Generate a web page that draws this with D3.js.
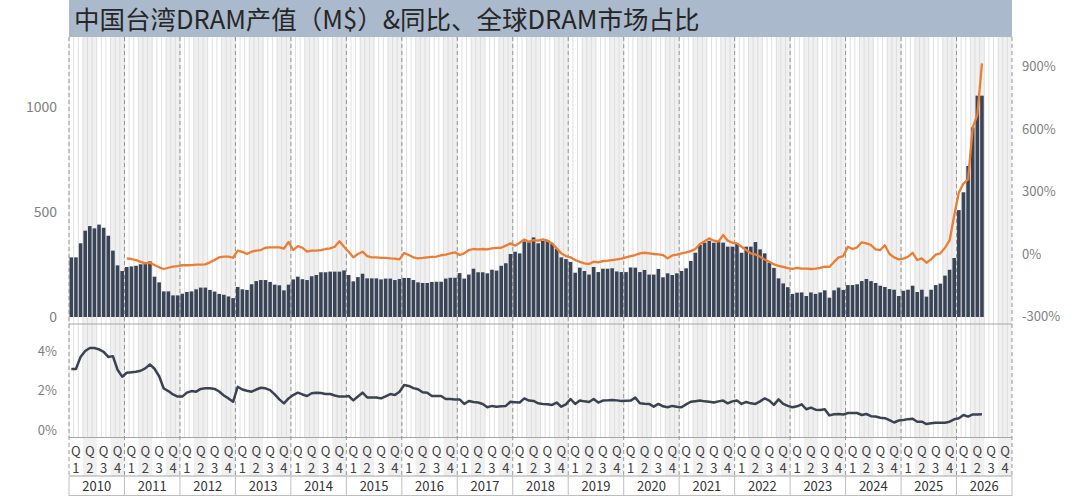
<!DOCTYPE html>
<html><head><meta charset="utf-8">
<script src="https://cdn.jsdelivr.net/npm/d3@7"></script>
<style>
body{margin:0;background:#fff}
svg{display:block}
text{font-family:"Noto Sans CJK SC","Noto Sans",sans-serif}
</style>
</head><body>
<svg id="chart" width="1080" height="496"></svg>
<script>
const title = "中国台湾DRAM产值（M$）&同比、全球DRAM市场占比";
const years = [2010,2011,2012,2013,2014,2015,2016,2017,2018,2019,2020,2021,2022,2023,2024,2025,2026];
const quarters = ["1","2","3","4"];
const monthsPerYear = ["01","02","03","04","05","06","07","08","09","10","11","12"];
const leftTicks = [0,500,1000];
const rightTicks = [-300,0,300,600,900];
const shareTicks = [0,2,4];

// 中国台湾DRAM产值 (M$), monthly from 2010-01
const output = [
  284,284,351,411,433,422,440,425,387,316,246,219,
  238,241,244,251,262,265,192,165,122,122,103,103,
  111,119,122,132,140,140,129,121,110,106,98,90,
  143,132,129,156,171,176,176,167,154,151,127,154,
  179,192,180,176,194,200,213,213,216,216,216,222,
  200,170,190,206,184,184,184,179,183,183,176,181,
  186,186,176,165,162,162,167,168,168,183,187,187,
  209,183,202,230,213,213,208,225,221,244,256,300,
  311,303,360,356,379,351,362,367,351,325,284,276,
  262,211,235,219,202,238,214,230,230,232,217,214,
  214,236,235,214,224,202,202,229,189,208,200,208,
  219,232,267,306,343,354,363,354,360,354,335,335,
  351,306,335,335,357,322,303,259,234,184,160,142,
  110,116,117,100,117,110,117,127,92,127,140,129,
  152,152,156,171,181,171,162,149,143,133,130,100,
  125,130,149,119,130,97,130,152,159,197,225,281,
  509,594,719,903,1054,1054
];
// 同比 (%), monthly from 2011-01
const yoyStartIndex = 12;
const yoy = [
  -21,-24,-29,-38,-45,-42,-53,-64,-72,-66,-61,-58,
  -54,-54,-53,-51,-51,-50,-40,-29,-16,-13,-13,-18,
  16,10,0,11,16,19,30,32,32,32,26,58,
  19,38,30,11,16,16,19,24,27,35,61,35,
  11,-16,0,11,-10,-16,-16,-19,-19,-21,-22,-26,
  5,-5,-16,-21,-19,-16,-14,-13,-6,-3,3,8,
  -5,3,19,24,22,24,22,27,29,30,40,51,
  40,54,70,59,66,64,70,64,51,27,3,-10,
  -16,-29,-38,-45,-48,-37,-40,-34,-32,-29,-26,-22,
  -16,-10,-5,3,6,3,0,-2,-5,-21,-7,-3,
  3,8,14,24,48,61,75,64,59,91,64,54,
  51,35,19,3,-2,-13,-26,-37,-50,-57,-62,-68,
  -71,-67,-70,-70,-72,-70,-67,-61,-62,-38,-16,-10,
  35,24,32,56,51,43,22,19,42,0,-16,-26,
  -22,-13,6,-29,-21,-42,-26,-3,3,30,65,185,
  295,338,358,608,668,915
];
// 全球DRAM市场占比 (%), monthly from 2010-01
const share = [
  3.09,3.09,3.7,4.0,4.15,4.15,4.08,3.96,3.7,3.74,3.05,2.7,
  2.9,2.92,2.95,3.0,3.12,3.32,3.1,2.72,2.1,1.97,1.8,1.69,
  1.69,1.89,1.97,1.94,2.08,2.11,2.11,2.08,1.95,1.75,1.6,1.43,
  2.19,2.05,1.99,1.94,2.05,2.14,2.11,2.02,1.8,1.55,1.35,1.6,
  1.77,1.89,1.8,1.72,1.86,1.89,1.87,1.82,1.82,1.75,1.69,1.69,
  1.72,1.5,1.7,1.89,1.65,1.65,1.65,1.6,1.7,1.82,1.77,1.94,
  2.28,2.23,2.12,2.06,1.91,1.89,1.72,1.72,1.72,1.57,1.57,1.55,
  1.55,1.32,1.47,1.42,1.39,1.32,1.15,1.22,1.18,1.2,1.22,1.43,
  1.41,1.39,1.6,1.49,1.47,1.35,1.32,1.3,1.27,1.39,1.18,1.3,
  1.57,1.32,1.49,1.45,1.42,1.57,1.39,1.49,1.5,1.52,1.5,1.47,
  1.48,1.49,1.64,1.35,1.33,1.32,1.18,1.32,1.2,1.15,1.22,1.18,
  1.15,1.3,1.43,1.46,1.49,1.45,1.43,1.39,1.45,1.49,1.35,1.45,
  1.49,1.32,1.42,1.35,1.32,1.45,1.6,1.49,1.27,1.55,1.32,1.22,
  1.15,1.2,1.3,1.05,1.13,1.03,1.01,1.05,0.74,0.8,0.81,0.78,
  0.86,0.86,0.86,0.76,0.81,0.7,0.68,0.62,0.6,0.5,0.38,0.48,
  0.51,0.55,0.57,0.42,0.42,0.3,0.34,0.37,0.37,0.37,0.42,0.54,
  0.59,0.76,0.68,0.79,0.79,0.8
];

// ---------- layout ----------
const L = 69, R = 1012;
const titleB = 37, panelSep = 324, lowerB = 437.5, qRowB = 476, yearRowB = 496;

const monthKeys = years.flatMap(y => monthsPerYear.map(m => y + "-" + m));
const quarterKeys = years.flatMap(y => quarters.map(q => y + "Q" + q));

const pad = 0.22;
const x = d3.scaleBand().domain(monthKeys).range([L, R]).paddingInner(pad).paddingOuter(pad / 2);
const xq = d3.scaleBand().domain(quarterKeys).range([L, R]);
const xy = d3.scaleBand().domain(years).range([L, R]);
const step = x.step();
const cx = k => x(k) + x.bandwidth() / 2;

const yL = d3.scaleLinear().domain([0, 1000]).range([317, 107]);
const yR = d3.scaleLinear().domain([-300, 900]).range([316.5, 66.5]);
const yS = d3.scaleLinear().domain([0, 4]).range([430, 351]);

const svg = d3.select("#chart");

// quarter shading (Q2, Q4)
svg.append("g").selectAll("rect")
  .data(quarterKeys.filter(k => k.endsWith("Q2") || k.endsWith("Q4")))
  .join("rect")
  .attr("x", d => xq(d)).attr("width", xq.bandwidth())
  .attr("y", titleB).attr("height", qRowB - titleB)
  .attr("fill", "#f0f0f0");

// month grid lines
svg.append("g").selectAll("line")
  .data(monthKeys)
  .join("line")
  .attr("x1", d => x(d) - step * pad / 2).attr("x2", d => x(d) - step * pad / 2)
  .attr("y1", titleB).attr("y2", lowerB)
  .attr("stroke", "#d8d8d8").attr("stroke-width", 0.8);

// horizontal rules
[[panelSep, "#a6a6a6"], [lowerB, "#a6a6a6"], [qRowB, "#a6a6a6"], [yearRowB - 0.5, "#bfbfbf"]].forEach(([yy, c]) => {
  svg.append("line").attr("x1", L).attr("x2", R).attr("y1", yy).attr("y2", yy)
    .attr("stroke", c).attr("stroke-width", 1);
});

// year boundaries (dashed in plot area, solid in year row)
const yearEdges = years.map(y => xy(y)).concat([R]);
svg.append("g").selectAll("line")
  .data(yearEdges).join("line")
  .attr("x1", d => d).attr("x2", d => d)
  .attr("y1", titleB).attr("y2", qRowB)
  .attr("stroke", "#8c8c8c").attr("stroke-width", 0.9).attr("stroke-dasharray", "4,3");
svg.append("g").selectAll("line")
  .data(yearEdges).join("line")
  .attr("x1", d => d).attr("x2", d => d)
  .attr("y1", qRowB).attr("y2", yearRowB)
  .attr("stroke", "#bfbfbf").attr("stroke-width", 1);

// title band
svg.append("rect").attr("x", L).attr("y", 0).attr("width", R - L).attr("height", titleB).attr("fill", "#aab9cb");
svg.append("text").attr("x", 74).attr("y", 29).attr("font-size", 25.5).attr("fill", "#262626").text(title);

// bars
svg.append("g").selectAll("rect")
  .data(output.map((v, i) => ({ k: monthKeys[i], v })))
  .join("rect")
  .attr("x", d => x(d.k)).attr("width", x.bandwidth())
  .attr("y", d => yL(d.v)).attr("height", d => yL(0) - yL(d.v))
  .attr("fill", "#3a4457");

// YoY line
const yoyData = yoy.map((v, i) => ({ k: monthKeys[i + yoyStartIndex], v }));
svg.append("path").datum(yoyData)
  .attr("d", d3.line().x(d => cx(d.k)).y(d => yR(d.v)))
  .attr("fill", "none").attr("stroke", "#ed7d31").attr("stroke-width", 2.3)
  .attr("stroke-linejoin", "round");

// share line
const shareData = share.map((v, i) => ({ k: monthKeys[i], v }));
svg.append("path").datum(shareData)
  .attr("d", d3.line().x(d => cx(d.k)).y(d => yS(d.v)))
  .attr("fill", "none").attr("stroke", "#3b4252").attr("stroke-width", 2.5)
  .attr("stroke-linejoin", "round");

// axes
const styleAxis = g => {
  g.select(".domain").remove();
  g.selectAll(".tick line").remove();
  g.selectAll("text").attr("fill", "#808080").attr("font-family", '"Noto Sans CJK SC","Noto Sans",sans-serif');
};
svg.append("g").attr("transform", "translate(57,0)")
  .call(d3.axisLeft(yL).tickValues(leftTicks).tickSize(0).tickPadding(0).tickFormat(d3.format("d")))
  .attr("font-size", 14).call(styleAxis);
svg.append("g").attr("transform", "translate(1022,0)")
  .call(d3.axisRight(yR).tickValues(rightTicks).tickSize(0).tickPadding(0).tickFormat(d => d + "%"))
  .attr("font-size", 13).call(styleAxis);
svg.append("g").attr("transform", "translate(57,0)")
  .call(d3.axisLeft(yS).tickValues(shareTicks).tickSize(0).tickPadding(0).tickFormat(d => d + "%"))
  .attr("font-size", 13).call(styleAxis);

// quarter labels: "Q" stacked over the quarter number, as one text element each
const lat = '"Liberation Sans",Arial,sans-serif';
const qt = svg.append("g").attr("font-size", 13).attr("fill", "#404040").attr("text-anchor", "middle")
  .selectAll("text").data(quarterKeys).join("text")
  .attr("font-family", lat)
  .attr("x", d => xq(d) + xq.bandwidth() / 2).attr("y", 455.5);
qt.append("tspan").text("Q");
qt.append("tspan").attr("x", d => xq(d) + xq.bandwidth() / 2).attr("dy", 17).text(d => d.slice(-1));

// year labels
svg.append("g").attr("font-size", 13).attr("fill", "#333").attr("text-anchor", "middle")
  .selectAll("text").data(years).join("text")
  .attr("font-family", lat)
  .attr("x", d => xy(d) + xy.bandwidth() / 2).attr("y", 491).text(d => d);
</script>
</body></html>
